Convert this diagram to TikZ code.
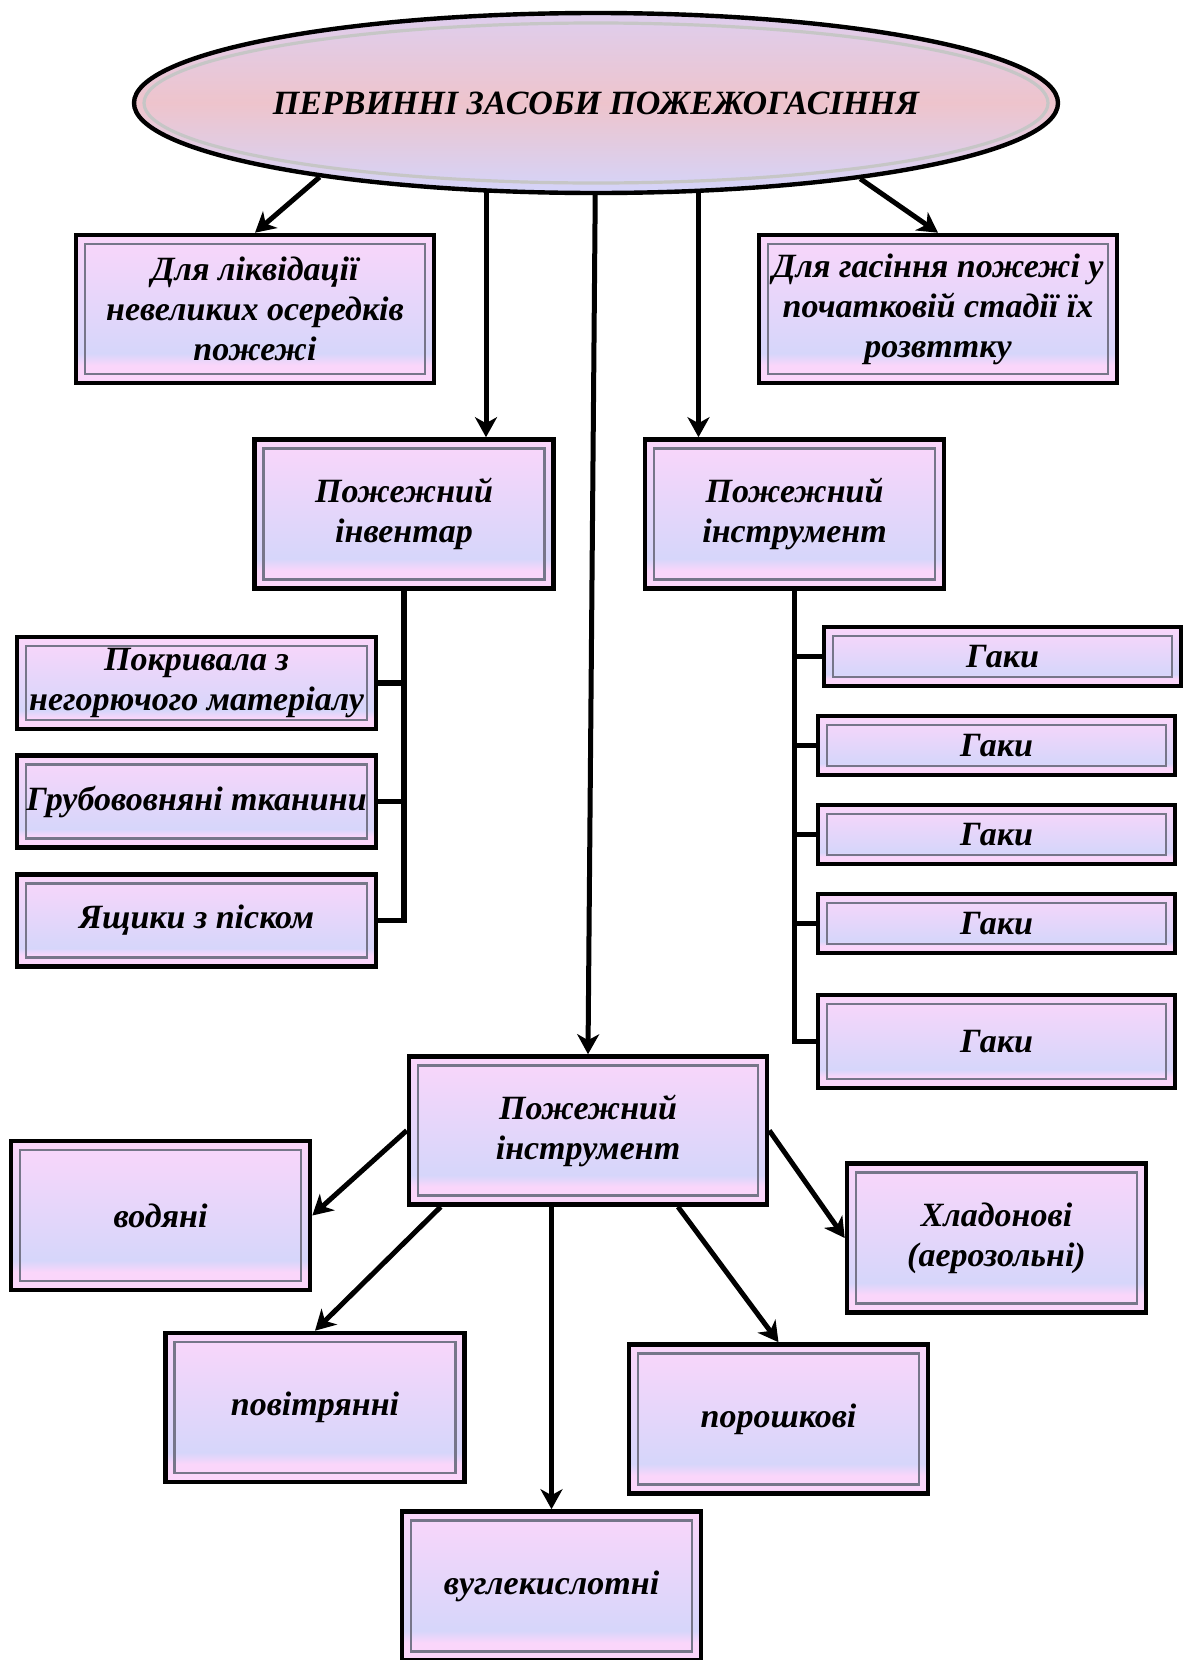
\documentclass[tikz,border=0pt]{standalone}
\usepackage{fontspec}
\setmainfont{Liberation Serif}
\usepackage{xcolor}
\usepackage{tikz}
\usetikzlibrary{arrows.meta,positioning,shapes.geometric,calc,backgrounds}
\definecolor{boxpink}{RGB}{250,214,250}
\definecolor{boxlav}{RGB}{214,214,250}
\definecolor{elltop}{RGB}{222,206,238}
\definecolor{ellpeach}{RGB}{238,196,204}
\definecolor{ellbot}{RGB}{212,212,250}
\pgfdeclareverticalshading{boxshade}{100bp}{color(0bp)=(boxpink); color(25bp)=(boxpink);
  color(31bp)=(boxpink); color(35bp)=(boxlav); color(75bp)=(boxpink); color(100bp)=(boxpink)}

\begin{document}
\begin{tikzpicture}[
  x=0.5pt, y=-0.5pt,
  box/.style={draw, line width=2.3pt, shade, shading=boxshade, align=center, inner sep=1pt,
    font=\fontsize{17}{20}\selectfont\bfseries\itshape,
    minimum width=179pt, minimum height=74pt,
    path picture={\draw[black!45!boxlav, line width=1.4pt]
      ([shift={(4.5pt,4.5pt)}]path picture bounding box.south west) rectangle
      ([shift={(-4.5pt,-4.5pt)}]path picture bounding box.north east);}},
  head/.style={ellipse, draw, line width=2.2pt, inner xsep=-20pt, inner ysep=0pt,
    top color=elltop, bottom color=ellbot, middle color=ellpeach,
    minimum width=462pt, minimum height=90pt,
    font=\fontsize{17}{20}\selectfont\bfseries\itshape,
    path picture={\draw[white!55!gray, line width=1.6pt]
      (path picture bounding box.center) ellipse (226pt and 40pt);}},
  group/.style={box, minimum width=149.5pt, minimum height=74.5pt},
  item/.style={box, minimum width=179.5pt, minimum height=46pt},
  tool/.style={box, minimum width=178.5pt, minimum height=29.5pt},
  kind/.style={box, minimum width=149.5pt, minimum height=74.5pt},
  flow/.style={-{Stealth[length=10pt,width=11pt,inset=3pt]}, line width=2.5pt},
  link/.style={line width=2.7pt}
]
\useasboundingbox (0,0) rectangle (1183,1660);

\node[head] (ell) at (596,103) {ПЕРВИННІ ЗАСОБИ ПОЖЕЖОГАСІННЯ};

\node[box] (small) at (255,309) {Для ліквідації\\невеликих осередків\\пожежі};
\node[box] (early) at (938,309) {Для гасіння пожежі у\\початковій стадії їх\\розвттку};

\node[group] (inv) at (404,514) {Пожежний\\інвентар};
\node[group] (instr) at (794.5,514) {Пожежний\\інструмент};

\node[item] (cover) at (196.5,683) {Покривала з\\негорючого матеріалу};
\node[item] (cloth) at (196.5,801.5) {Грубововняні тканини};
\node[item] (sand) at (196.5,920.5) {Ящики з піском};

\node[tool] (hookA) at (1002.5,656.5) {Гаки};
\node[tool] (hookB) at (996.5,745.5) {Гаки};
\node[tool] (hookC) at (996.5,834.5) {Гаки};
\node[tool] (hookD) at (996.5,923.5) {Гаки};
\node[tool, minimum height=46.5pt] (hookE) at (996.5,1041.5) {Гаки};

\node[box] (ext) at (588,1130.5) {Пожежний\\інструмент};

\node[kind] (water) at (160.5,1215.5) {водяні};
\node[kind] (air) at (315,1407.5) {повітрянні};
\node[kind] (co2) at (551.5,1586) {вуглекислотні};
\node[kind] (powder) at (778.5,1419) {порошкові};
\node[kind] (halon) at (996.5,1238) {Хладонові\\(аерозольні)};

% from the ellipse
\draw[flow] (ell.195) -- (small.north);
\draw[flow] (ell.344) -- (early.north);
\draw[flow] (ell) -- (ext.north);
\begin{scope}[on background layer]
\draw[flow] ([xshift=41pt]inv.north |- ell.center) -- ([xshift=41pt]inv.north);
\draw[flow] ([xshift=-48pt]instr.north |- ell.center) -- ([xshift=-48pt]instr.north);
\end{scope}

% lists
\draw[link] (inv.south) |- (sand.east);
\draw[link] (inv.south |- cover.east) -- (cover.east);
\draw[link] (inv.south |- cloth.east) -- (cloth.east);
\draw[link] (instr.south) |- (hookE.west);
\draw[link] (instr.south |- hookA.west) -- (hookA.west);
\draw[link] (instr.south |- hookB.west) -- (hookB.west);
\draw[link] (instr.south |- hookC.west) -- (hookC.west);
\draw[link] (instr.south |- hookD.west) -- (hookD.west);

% kinds of extinguishers
\draw[flow] (ext.west) -- (water.east);
\draw[flow] ([xshift=17pt]ext.south west) -- (air.north);
\draw[flow] (co2.north |- ext.south) -- (co2.north);
\draw[flow] ([xshift=45pt]ext.south) -- (powder.north);
\draw[flow] (ext.east) -- (halon.west);
\end{tikzpicture}
\end{document}
